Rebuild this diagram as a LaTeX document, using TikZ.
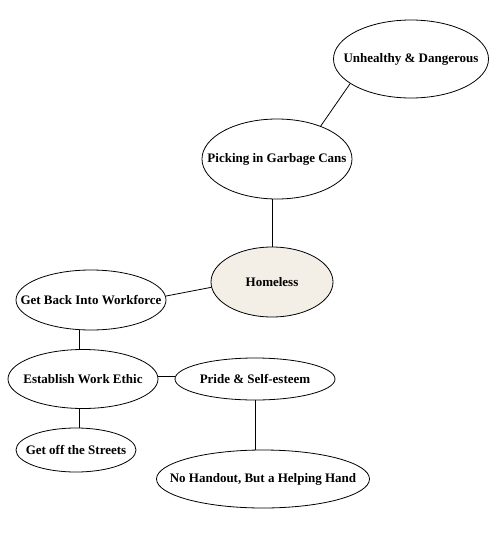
\documentclass[tikz,border=0pt]{standalone}
\usepackage{fontspec}
\setmainfont{Liberation Serif}
\usetikzlibrary{shapes.geometric}

\tikzset{
  txt/.style={font=\fontsize{13}{15}\selectfont\bfseries, inner sep=0pt},
  bubble/.style={draw, ellipse, inner sep=0pt, line width=0.8pt, label={[txt]center:{#1}}},
  link/.style={line width=0.8pt}
}

\begin{document}
\begin{tikzpicture}[x=1pt,y=-1pt]
\useasboundingbox (0,0) rectangle (500,538);

\node (unhealthy) [bubble={Unhealthy \& Dangerous}, minimum width=155pt, minimum height=78pt] at (411,59) {};
\node (garbage) [bubble={Picking in Garbage Cans}, minimum width=150pt, minimum height=80pt] at (277,159) {};
\node (homeless) [bubble={Homeless}, fill={rgb,255:red,243;green,239;blue,230}, minimum width=122pt, minimum height=70pt] at (272,282) {};
\node (workforce) [bubble={Get Back Into Workforce}, minimum width=150pt, minimum height=60pt] at (91,300) {};
\node (ethic) [bubble={Establish Work Ethic}, minimum width=150pt, minimum height=59pt] at (83,379) {};
\node (pride) [bubble={Pride \& Self-esteem}, minimum width=160pt, minimum height=42pt] at (255,379) {};
\node (streets) [bubble={Get off the Streets}, minimum width=120pt, minimum height=44pt] at (76,450) {};
\node (handout) [bubble={No Handout, But a Helping Hand}, minimum width=213pt, minimum height=58pt] at (263,479) {};

\draw[link]  (unhealthy.202)  --  (garbage.37);
\draw[link]  (homeless.north)  --  (homeless.north |- garbage.south);
\draw[link]  (workforce.3)  --  (homeless.185);
\draw[link]  ([xshift=-4pt]ethic.north)  --  ([xshift=-4pt]ethic.north |- workforce.south);
\draw[link]  ([yshift=3pt]ethic.east)  --  ([yshift=3pt]pride.west);
\draw[link]  ([xshift=-4pt]ethic.south)  --  ([xshift=-4pt]ethic.south |- streets.north);
\draw[link]  (pride.south)  --  (pride.south |- handout.north);

\end{tikzpicture}
\end{document}
